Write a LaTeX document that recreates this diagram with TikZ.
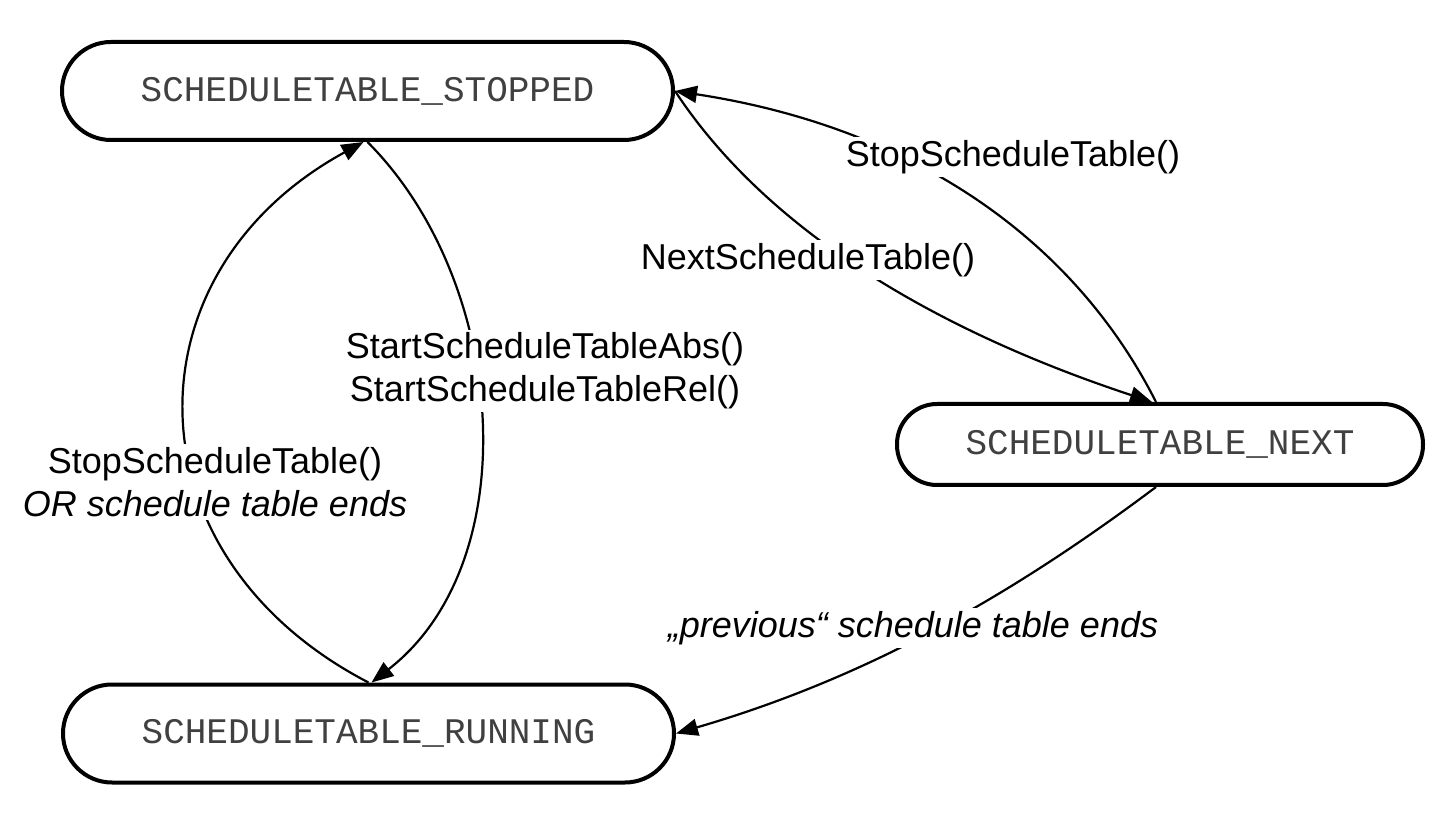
\documentclass[tikz,border=0pt]{standalone}
\usepackage{fontspec}
\setmainfont{Liberation Sans}
\setmonofont{Liberation Mono}
\usetikzlibrary{arrows.meta}
\begin{document}
\begin{tikzpicture}[x=0.5pt,y=-0.5pt,
  font=\fontsize{18}{21.6}\selectfont,
  state/.style={draw, line width=2pt, minimum width=305.5pt, minimum height=49pt,
    rounded corners=24.5pt, font=\fontsize{18}{21.6}\selectfont\ttfamily, text=black!75, inner sep=0pt},
  lbl/.style={fill=white, inner sep=1.5pt, align=center},
  conn/.style={line width=1.1pt, -{Triangle[length=11pt,width=8.5pt]}}]
\path[use as bounding box, fill=white] (0,0) rectangle (1452,828);

\node[state] (stopped) at (367.5,91) {SCHEDULETABLE\_STOPPED};
\node[state] (running) at (368.5,733.5) {SCHEDULETABLE\_RUNNING};
\node[state, minimum width=263pt, minimum height=40.5pt, rounded corners=20pt] (next) at (1160,444.5) {SCHEDULETABLE\_NEXT};

\coordinate (nextin) at ([xshift=-4pt]next.north);
\coordinate (nextout) at ([xshift=-2pt]next.north);
\coordinate (nextbot) at ([xshift=-2pt]next.south);

% running -> stopped (left)
\draw[conn] (running.north) .. controls +(-243,-126) and +(-240,131) .. ([xshift=-2pt]stopped.south);
% stopped -> running (right)
\draw[conn] (stopped.south) .. controls +(140,140) and +(156,-121) .. ([xshift=1.5pt]running.north);
% stopped -> next
\draw[conn] (stopped.east) .. controls +(115,175) and +(-142,-47) .. (nextin);
% next -> stopped
\draw[conn] (nextout) .. controls +(-81,-160) and +(242,37) .. (stopped.east);
% next -> running
\draw[conn] (nextbot) .. controls +(-144,108) and +(192,-56) .. (running.east);

\node[lbl] (l1) at (215,482) {StopScheduleTable()\\\itshape OR schedule table ends};
\node[lbl] (l2) at (545,371) {StartScheduleTableAbs()\\StartScheduleTableRel()};
\node[lbl] (l3) at (808,260) {NextScheduleTable()};
\node[lbl] (l4) at (1013,157) {StopScheduleTable()};
\node[lbl, font=\fontsize{18}{21.6}\selectfont\itshape] (l5) at (913,628) {„previous“ schedule table ends};
\end{tikzpicture}
\end{document}
